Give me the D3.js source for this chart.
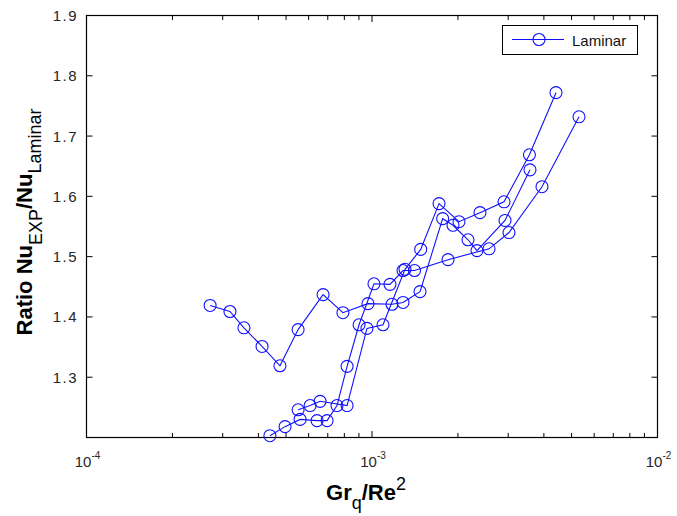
<!DOCTYPE html>
<html>
<head>
<meta charset="utf-8">
<title>Ratio Nu EXP / Nu Laminar</title>
<script src="https://d3js.org/d3.v7.min.js"></script>
<style>
	body { margin: 0; background: #fff; }
	svg { font-family: "Liberation Sans", Arial, sans-serif; }
	.tick-label { fill: #262626; font-size: 15px; }
	.axis-title { fill: #000; font-size: 22px; font-weight: bold; }
	.sub { font-weight: normal; font-size: 18px; }
</style>
</head>
<body>
<script>
	// three runs (x = Gr_q/Re^2, y = Nu_EXP/Nu_Laminar)
	var runA_x = [2.71e-4, 3.18e-4, 3.56e-4, 4.12e-4, 4.76e-4, 5.51e-4, 6.74e-4, 7.91e-4, 9.68e-4, 1.175e-3, 1.284e-3, 1.473e-3, 1.768e-3, 1.922e-3, 2.169e-3, 2.332e-3, 2.923e-3, 3.576e-3];
	var runA_y = [1.419, 1.409, 1.382, 1.351, 1.319, 1.379, 1.437, 1.407, 1.422, 1.421, 1.424, 1.442, 1.563, 1.552, 1.528, 1.510, 1.560, 1.644];

	var runB_x = [4.39e-4, 4.96e-4, 5.60e-4, 6.42e-4, 6.96e-4, 7.54e-4, 8.18e-4, 9.01e-4, 1.016e-3, 1.156e-3, 1.284e-3, 1.409e-3, 1.846e-3, 2.570e-3, 3.019e-3, 3.939e-3, 5.31e-3];
	var runB_y = [1.203, 1.218, 1.230, 1.228, 1.228, 1.253, 1.318, 1.387, 1.455, 1.454, 1.477, 1.477, 1.495, 1.513, 1.540, 1.616, 1.732];

	var runC_x = [5.51e-4, 6.07e-4, 6.58e-4, 8.18e-4, 9.60e-4, 1.093e-3, 1.305e-3, 1.481e-3, 1.717e-3, 2.017e-3, 2.389e-3, 2.900e-3, 3.56e-3, 4.41e-3];
	var runC_y = [1.246, 1.253, 1.260, 1.253, 1.381, 1.387, 1.479, 1.512, 1.588, 1.558, 1.573, 1.591, 1.669, 1.772];

	var xMajor = [1e-4, 1e-3, 1e-2];
	var xMajorExp = ["-4", "-3", "-2"];
	var yTicks = [1.3, 1.4, 1.5, 1.6, 1.7, 1.8, 1.9];
	var legendLabel = "Laminar";

	var width = 677, height = 516;
	var m = { left: 86.5, top: 15.5, right: 657.5, bottom: 437.5 };
	var blue = "#1010ff";

	var svg = d3.select("body").append("svg")
		.attr("width", width)
		.attr("height", height);

	var x = d3.scaleLog().domain([1e-4, 1e-2]).range([m.left, m.right]);
	var y = d3.scaleLinear().domain([1.2, 1.9]).range([m.bottom, m.top]);

	// minor ticks 2..9 of each decade
	var xMinor = [];
	[1e-4, 1e-3].forEach(function(d) {
		for (var k = 2; k <= 9; k++) xMinor.push(d * k);
	});

	var g = svg.append("g");

	// box
	g.append("rect")
		.attr("x", m.left).attr("y", m.top)
		.attr("width", m.right - m.left).attr("height", m.bottom - m.top)
		.attr("fill", "none").attr("stroke", "#000").attr("stroke-width", 1.2);

	// x ticks (inside, bottom and top)
	function xTick(v, len) {
		g.append("line").attr("x1", x(v)).attr("x2", x(v))
			.attr("y1", m.bottom).attr("y2", m.bottom - len)
			.attr("stroke", "#000");
		g.append("line").attr("x1", x(v)).attr("x2", x(v))
			.attr("y1", m.top).attr("y2", m.top + len)
			.attr("stroke", "#000");
	}
	xMinor.forEach(function(v) { xTick(v, 4.5); });
	xMajor.forEach(function(v) { xTick(v, 6.5); });

	// y ticks (inside, left and right)
	yTicks.forEach(function(v) {
		g.append("line").attr("x1", m.left).attr("x2", m.left + 6)
			.attr("y1", y(v)).attr("y2", y(v)).attr("stroke", "#000");
		g.append("line").attr("x1", m.right).attr("x2", m.right - 6)
			.attr("y1", y(v)).attr("y2", y(v)).attr("stroke", "#000");
	});

	// y tick labels
	g.selectAll(".ylab").data(yTicks).enter().append("text")
		.attr("class", "tick-label")
		.attr("x", 78)
		.attr("y", function(d) { return y(d) + 5.5; })
		.attr("text-anchor", "end")
		.style("letter-spacing", "1.5px")
		.text(function(d) { return d.toFixed(1); });

	// x tick labels 10^n
	xMajor.forEach(function(v, i) {
		var t = g.append("text")
			.attr("class", "tick-label")
			.attr("x", x(v) + 1)
			.attr("y", 467)
			.attr("text-anchor", "middle");
		t.append("tspan").text("10");
		t.append("tspan").attr("dy", -8).style("font-size", "10px").text(xMajorExp[i]);
	});

	// x axis title: Gr_q/Re^2
	var xt = g.append("text")
		.attr("class", "axis-title")
		.attr("x", 366)
		.attr("y", 500)
		.attr("text-anchor", "middle");
	xt.append("tspan").text("Gr");
	xt.append("tspan").attr("class", "sub").attr("dy", 9).text("q");
	xt.append("tspan").attr("dy", -9).text("/Re");
	xt.append("tspan").attr("class", "sub").attr("dy", -10).text("2");

	// y axis title: Ratio Nu_EXP/Nu_Laminar
	var yt = g.append("text")
		.attr("class", "axis-title")
		.attr("transform", "translate(32,222) rotate(-90)")
		.attr("text-anchor", "middle");
	yt.append("tspan").text("Ratio Nu");
	yt.append("tspan").attr("class", "sub").attr("dy", 10).text("EXP");
	yt.append("tspan").attr("dy", -10).text("/Nu");
	yt.append("tspan").attr("class", "sub").attr("dy", 9).text("Laminar");

	// data
	var runs = [
		d3.zip(runA_x, runA_y),
		d3.zip(runB_x, runB_y),
		d3.zip(runC_x, runC_y)
	];

	var line = d3.line()
		.x(function(d) { return x(d[0]); })
		.y(function(d) { return y(d[1]); });

	var plot = svg.append("g");

	runs.forEach(function(run) {
		plot.append("path")
			.datum(run)
			.attr("d", line)
			.attr("fill", "none")
			.attr("stroke", blue)
			.attr("stroke-width", 1.1);
		plot.selectAll(null).data(run).enter().append("circle")
			.attr("cx", function(d) { return x(d[0]); })
			.attr("cy", function(d) { return y(d[1]); })
			.attr("r", 6)
			.attr("fill", "none")
			.attr("stroke", blue)
			.attr("stroke-width", 1.1);
	});

	// legend
	var lg = svg.append("g");
	lg.append("rect")
		.attr("x", 502.5).attr("y", 25.5)
		.attr("width", 135).attr("height", 29)
		.attr("fill", "#fff").attr("stroke", "#000").attr("stroke-width", 1);
	lg.append("line")
		.attr("x1", 512).attr("x2", 564).attr("y1", 39.5).attr("y2", 39.5)
		.attr("stroke", blue).attr("stroke-width", 1.1);
	lg.append("circle")
		.attr("cx", 539).attr("cy", 39.5).attr("r", 6)
		.attr("fill", "none").attr("stroke", blue).attr("stroke-width", 1.1);
	lg.append("text")
		.attr("x", 572).attr("y", 45.5)
		.style("font-size", "15px")
		.attr("fill", "#111")
		.text(legendLabel);
</script>
</body>
</html>
